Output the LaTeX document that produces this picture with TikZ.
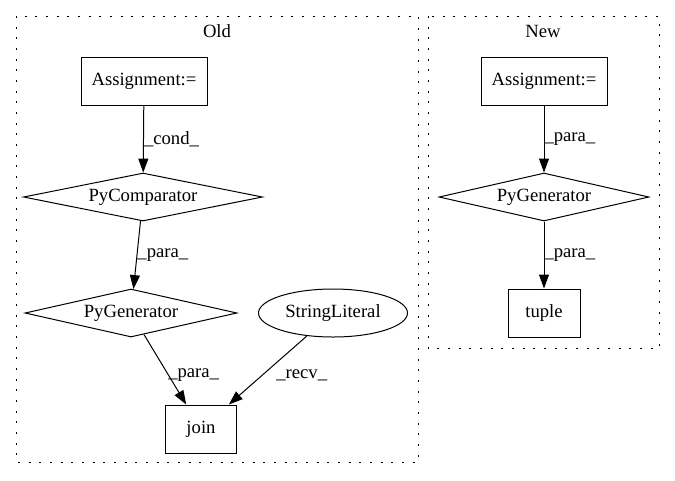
\documentclass[tikz,border=0pt]{standalone}
\usepackage{fontspec}
\setmainfont{Liberation Serif}
\usetikzlibrary{arrows.meta}
\usetikzlibrary{shapes.geometric}

\begin{document}
\begin{tikzpicture}[x=0.75pt,y=-0.75pt,
    every node/.style={font=\fontsize{14pt}{16pt}\selectfont},
    box/.style={draw,line width=0.75pt,rectangle,inner sep=0pt,minimum height=36pt},
    dmd/.style={draw,line width=0.75pt,diamond,inner sep=0pt,minimum height=36pt},
    oval/.style={draw,line width=0.75pt,ellipse,inner sep=0pt,minimum height=36pt},
    lbl/.style={right,inner sep=0pt,font=\fontsize{14pt}{16pt}\selectfont},
    cluster/.style={draw,line width=0.75pt,dash pattern=on 1.5pt off 6.5pt},
    edge/.style={line width=0.75pt,-{Triangle[length=10.5pt,width=7.5pt]}}]
    \useasboundingbox (0,0) rectangle (675,480);
    \draw[cluster] (16,16) rectangle (418,462);
    \draw[cluster] (428,16) rectangle (659,348);
    \node (oldlbl) at (217,31) {Old};
    \node (newlbl) at (543,31) {New};
    \node[box,minimum width=94.5pt] (asgold) at (144,81) {Assignment:=};
    \node[dmd,minimum width=179.25pt,shape aspect=5] (cmp) at (143,197) {PyComparator};
    \node[dmd,minimum width=159pt,shape aspect=4.4] (genold) at (131,313) {PyGenerator};
    \node[oval,minimum width=111.75pt] (strlit) at (333,313) {StringLiteral};
    \node[box,minimum width=53.25pt] (join) at (201,429) {join};
    \node[box,minimum width=94.5pt] (asgnew) at (544,81) {Assignment:=};
    \node[dmd,minimum width=157.5pt,shape aspect=4.4] (gennew) at (544,197) {PyGenerator};
    \node[box,minimum width=54pt] (tuple) at (544,313) {tuple};
    \draw[edge] (asgold) -- (cmp) node[midway,lbl] {\_cond\_};
    \draw[edge] (cmp) -- (genold) node[midway,lbl] {\_para\_};
    \draw[edge] (genold) -- (join) node[midway,lbl,xshift=2pt,yshift=-4pt] {\_para\_};
    \draw[edge] (strlit) -- (join) node[midway,lbl,xshift=6pt,yshift=-4pt] {\_recv\_};
    \draw[edge] (asgnew) -- (gennew) node[midway,lbl] {\_para\_};
    \draw[edge] (gennew) -- (tuple) node[midway,lbl] {\_para\_};
\end{tikzpicture}
\end{document}
